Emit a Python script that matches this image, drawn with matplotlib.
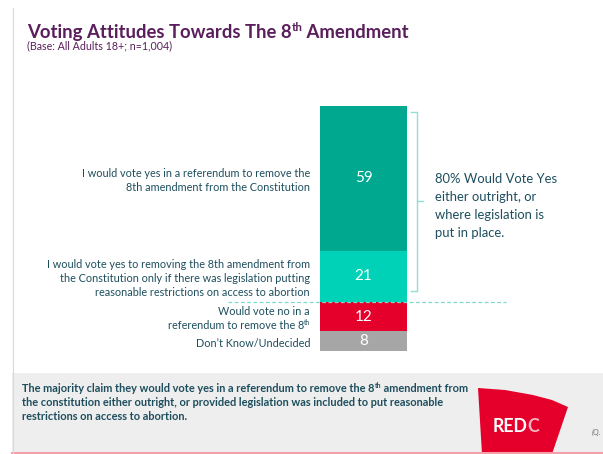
import matplotlib
matplotlib.use("Agg")
import matplotlib.pyplot as plt
import matplotlib.transforms as mtrans
from matplotlib.patches import Rectangle, Polygon

plt.rcParams['font.family'] = ['Lato', 'DejaVu Sans']

# ---- data ----
categories = [
    "I would vote yes in a referendum to remove the\n8th amendment from the Constitution",
    "I would vote yes to removing the 8th amendment from\nthe Constitution only if there was legislation putting\nreasonable restrictions on access to abortion",
    "Would vote no in a\nreferendum to remove the 8^th",
    "Don\u2019t Know/Undecided",
]
values = [59, 21, 12, 8]
colors = ["#00a88f", "#00d2b7", "#e4002b", "#a6a6a6"]

title = "Voting Attitudes Towards The 8^th Amendment"
subtitle = "(Base: All Adults 18+; n=1,004)"
annotation = "80% Would Vote Yes\neither outright, or\nwhere legislation is\nput in place."
footer = ("The majority claim they would vote yes in a referendum to remove the 8^th amendment from\n"
          "the constitution either outright, or provided legislation was included to put reasonable\n"
          "restrictions on access to abortion.")

W, H = 603, 454
fig = plt.figure(figsize=(W / 100, H / 100), dpi=100)
fig.patch.set_facecolor("white")
renderer = fig.canvas.get_renderer()


def fx(px):
    return px / W


def fy(py):
    return 1 - py / H


def text_width(t):
    return t.get_window_extent(renderer).width


def rich_line(x_px, y_px, line, size_pt, ha="left", **kw):
    """Draw one line (centred vertically at y_px) where '^th' marks a superscript."""
    size_px = size_pt * 100 / 72
    parts = []
    segs = line.split("^th")
    for i, s in enumerate(segs):
        if s:
            parts.append((s, False))
        if i < len(segs) - 1:
            parts.append(("th", True))
    arts = []
    for s, sup in parts:
        t = fig.text(0, 0, s, fontsize=size_pt * (0.62 if sup else 1.0), ha="left",
                     va="baseline", **kw)
        arts.append((t, sup))
    widths = [text_width(t) for t, _ in arts]
    total = sum(widths)
    x = x_px if ha == "left" else x_px - total
    base_y = y_px + size_px * 0.36
    for (t, sup), w in zip(arts, widths):
        yy = base_y - (size_px * 0.38 if sup else 0)
        t.set_position((fx(x), fy(yy)))
        x += w


TEAL_TXT = "#1d4e5e"
PURPLE = "#5a1e5c"

# background elements
bg = fig.add_axes([0, 0, 1, 1])
bg.set_xlim(0, W)
bg.set_ylim(H, 0)
bg.axis("off")
bg.add_patch(Rectangle((12, 373), W - 12, 81, facecolor="#eeeeee", edgecolor="none"))
bg.plot([12, W], [452.5, 452.5], color="#f4a0aa", lw=1.5)
bg.plot([12.5, 12.5], [8, 454], color="#d9d9d9", lw=0.8)
logo = Polygon([(478, 388), (505, 390), (533, 395), (552, 400), (568, 407),
                (552, 454), (482, 454)], closed=True, facecolor="#e4002b", edgecolor="none")
bg.add_patch(logo)
t1 = bg.text(493, 427, "RED", color="white", fontsize=12.8, fontweight="bold",
             va="center", ha="left")
w1 = text_width(t1)
bg.text(493 + w1 - 0.5, 427, "C", color="#f7b3bd", fontsize=12.8, fontweight="bold",
        va="center", ha="left")
bg.text(592, 432, "(Q.", color="#777777", fontsize=5.5, style="italic", va="center", ha="left")

# bar axes: y 0..100 mapped to pixel 351..106
bottom_px, top_px = 351, 106
ax = fig.add_axes([fx(320), fy(bottom_px), fx(407) - fx(320), (bottom_px - top_px) / H])
ax.set_xlim(-0.5, 0.5)
ax.set_ylim(0, 100)
ax.axis("off")

cum = 100
mids = []
for v, c in zip(values, colors):
    ax.bar(0, v, bottom=cum - v, width=1.0, color=c, edgecolor="none")
    mids.append(cum - v / 2)
    cum -= v

LAB_SIZE = 7.85
LINE_H = 14.0
for lab, m, v in zip(categories, mids, values):
    ypx = bottom_px - m / 100 * (bottom_px - top_px)
    lines = lab.split("\n")
    n = len(lines)
    for i, ln in enumerate(lines):
        yy = ypx + (i - (n - 1) / 2) * LINE_H + 1.5
        rich_line(310, yy, ln, LAB_SIZE, ha="right", color=TEAL_TXT)
    ax.text(0, m, str(v), ha="center", va="center", color="white", fontsize=11)

trans = mtrans.blended_transform_factory(fig.transFigure, ax.transData)
sep_y = 100 - (values[0] + values[1])
ax.plot([fx(228), fx(506)], [sep_y, sep_y], transform=trans, color="#7fd8cc",
        lw=0.9, ls=(0, (3, 2)), clip_on=False)

# bracket
bx = fx(417)
b_top = 100 - 2.3
b_bot = sep_y + 4.4
b_mid = (b_top + b_bot) / 2
bc = "#8fe0d4"
ax.plot([fx(411.5), bx, bx, fx(411.5)], [b_top, b_top, b_bot, b_bot], transform=trans,
        color=bc, lw=1.0, clip_on=False)
ax.plot([bx, fx(423)], [b_mid, b_mid], transform=trans, color=bc, lw=1.0, clip_on=False)

fig.text(fx(435), fy(206), annotation, ha="left", va="center", fontsize=9.4,
         color=TEAL_TXT, linespacing=1.58)

# titles
rich_line(27, 31, title, 13.3, fontweight="bold", color=PURPLE)
fig.text(fx(27), fy(46), subtitle, ha="left", va="center", fontsize=7.7, color=PURPLE)

# footer
for i, ln in enumerate(footer.split("\n")):
    rich_line(22, 388 + i * 14.2, ln, 7.95, fontweight="bold", color=TEAL_TXT)

fig.savefig("out.png", dpi=100)
